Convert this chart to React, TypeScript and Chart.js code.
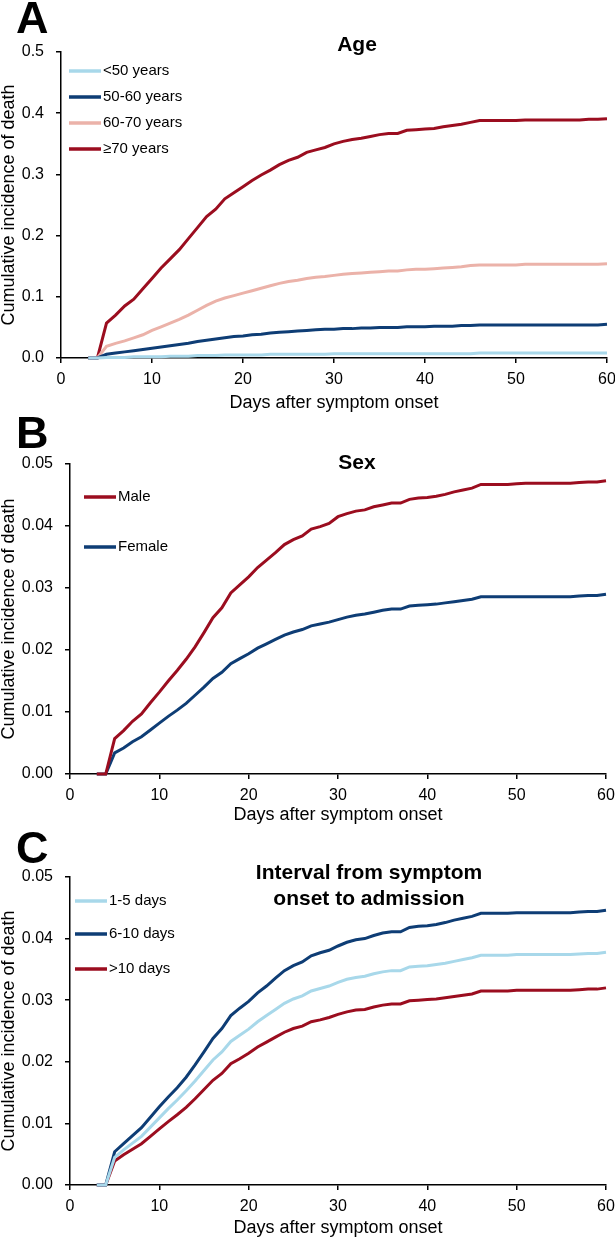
import React, { useEffect, useRef } from "react";
import { Chart, registerables } from "chart.js";

Chart.register(...registerables);

const FONT = '"Liberation Sans", Arial, Helvetica, sans-serif';

// ---------- data ----------
const DAYS = [3, 4, 5, 6, 7, 8, 9, 10,
  11, 12, 13, 14, 15, 16, 17, 18, 19, 20,
  21, 22, 23, 24, 25, 26, 27, 28, 29, 30,
  31, 32, 33, 34, 35, 36, 37, 38, 39, 40,
  41, 42, 43, 44, 45, 46, 47, 48, 49, 50,
  51, 52, 53, 54, 55, 56, 57, 58, 59, 60];

const X_TICKS = [0, 10, 20, 30, 40, 50, 60];

// Panel A: age
const AGE_LABELS = ["<50 years", "50-60 years", "60-70 years", "\u226570 years"];
const AGE_LT50 = [0, 0, 0.001, 0.001, 0.001, 0.002, 0.002, 0.002,
  0.002, 0.003, 0.003, 0.003, 0.004, 0.004, 0.004, 0.005, 0.005, 0.005,
  0.005, 0.005, 0.006, 0.006, 0.006, 0.006, 0.006, 0.006, 0.006, 0.007,
  0.007, 0.007, 0.007, 0.007, 0.007, 0.007, 0.007, 0.007, 0.007, 0.007,
  0.007, 0.007, 0.007, 0.007, 0.007, 0.008, 0.008, 0.008, 0.008, 0.008,
  0.008, 0.008, 0.008, 0.008, 0.008, 0.008, 0.008, 0.008, 0.008, 0.008];
const AGE_50_60 = [0, 0, 0.006, 0.008, 0.010, 0.012, 0.014, 0.016,
  0.018, 0.020, 0.022, 0.024, 0.027, 0.029, 0.031, 0.033, 0.035, 0.036,
  0.038, 0.039, 0.041, 0.042, 0.043, 0.044, 0.045, 0.046, 0.047, 0.047,
  0.048, 0.048, 0.049, 0.049, 0.050, 0.050, 0.050, 0.051, 0.051, 0.051,
  0.052, 0.052, 0.052, 0.053, 0.053, 0.054, 0.054, 0.054, 0.054, 0.054,
  0.054, 0.054, 0.054, 0.054, 0.054, 0.054, 0.054, 0.054, 0.054, 0.055];
const AGE_60_70 = [0, 0, 0.019, 0.024, 0.028, 0.033, 0.038, 0.045,
  0.051, 0.057, 0.063, 0.070, 0.078, 0.086, 0.093, 0.098, 0.102, 0.106,
  0.110, 0.114, 0.118, 0.122, 0.125, 0.127, 0.130, 0.132, 0.133, 0.135,
  0.137, 0.138, 0.139, 0.140, 0.141, 0.142, 0.142, 0.144, 0.145, 0.145,
  0.146, 0.147, 0.148, 0.149, 0.151, 0.152, 0.152, 0.152, 0.152, 0.152,
  0.153, 0.153, 0.153, 0.153, 0.153, 0.153, 0.153, 0.153, 0.153, 0.154];
const AGE_70 = [0, 0, 0.057, 0.070, 0.085, 0.096, 0.113, 0.130,
  0.147, 0.162, 0.177, 0.195, 0.213, 0.231, 0.243, 0.260, 0.270, 0.280,
  0.290, 0.299, 0.307, 0.316, 0.323, 0.328, 0.336, 0.340, 0.344, 0.350,
  0.354, 0.357, 0.359, 0.362, 0.365, 0.367, 0.367, 0.372, 0.373, 0.374,
  0.375, 0.378, 0.380, 0.382, 0.385, 0.388, 0.388, 0.388, 0.388, 0.388,
  0.389, 0.389, 0.389, 0.389, 0.389, 0.389, 0.389, 0.390, 0.390, 0.391];

// Panel B: sex
const SEX_LABELS = ["Male", "Female"];
const MALE = [0, 0, 0.0057, 0.0070, 0.0085, 0.0097, 0.0115, 0.0132,
  0.0150, 0.0167, 0.0185, 0.0205, 0.0228, 0.0252, 0.0268, 0.0292, 0.0305, 0.0318,
  0.0333, 0.0345, 0.0357, 0.0370, 0.0378, 0.0384, 0.0395, 0.0399, 0.0404, 0.0415,
  0.0420, 0.0424, 0.0426, 0.0431, 0.0434, 0.0437, 0.0437, 0.0443, 0.0445, 0.0446,
  0.0448, 0.0451, 0.0455, 0.0458, 0.0461, 0.0467, 0.0467, 0.0467, 0.0467, 0.0468,
  0.0469, 0.0469, 0.0469, 0.0469, 0.0469, 0.0469, 0.0470, 0.0471, 0.0471, 0.0473];
const FEMALE = [0, 0, 0.0034, 0.0042, 0.0052, 0.0060, 0.0071, 0.0082,
  0.0093, 0.0103, 0.0114, 0.0127, 0.0140, 0.0154, 0.0164, 0.0178, 0.0186, 0.0194,
  0.0203, 0.0210, 0.0217, 0.0224, 0.0229, 0.0233, 0.0239, 0.0242, 0.0245, 0.0249,
  0.0253, 0.0256, 0.0258, 0.0261, 0.0264, 0.0266, 0.0266, 0.0271, 0.0272, 0.0273,
  0.0274, 0.0276, 0.0278, 0.0280, 0.0282, 0.0286, 0.0286, 0.0286, 0.0286, 0.0286,
  0.0286, 0.0286, 0.0286, 0.0286, 0.0286, 0.0286, 0.0287, 0.0288, 0.0288, 0.0290];

// Panel C: interval from symptom onset to admission
const INT_LABELS = ["1-5 days", "6-10 days", ">10 days"];
const INT_1_5 = [0, 0, 0.0045, 0.0057, 0.0068, 0.0079, 0.0094, 0.0109,
  0.0124, 0.0138, 0.0153, 0.0169, 0.0186, 0.0203, 0.0216, 0.0233, 0.0243, 0.0253,
  0.0265, 0.0275, 0.0285, 0.0295, 0.0302, 0.0307, 0.0315, 0.0319, 0.0323, 0.0329,
  0.0334, 0.0337, 0.0339, 0.0343, 0.0346, 0.0348, 0.0348, 0.0354, 0.0355, 0.0356,
  0.0358, 0.0360, 0.0363, 0.0366, 0.0369, 0.0373, 0.0373, 0.0373, 0.0373, 0.0374,
  0.0374, 0.0374, 0.0374, 0.0374, 0.0374, 0.0374, 0.0375, 0.0376, 0.0376, 0.0378];
const INT_6_10 = [0, 0, 0.0054, 0.0067, 0.0080, 0.0093, 0.0110, 0.0127,
  0.0143, 0.0158, 0.0175, 0.0195, 0.0216, 0.0238, 0.0254, 0.0275, 0.0287, 0.0298,
  0.0312, 0.0323, 0.0336, 0.0348, 0.0356, 0.0362, 0.0372, 0.0377, 0.0381, 0.0388,
  0.0394, 0.0398, 0.0400, 0.0405, 0.0409, 0.0411, 0.0411, 0.0418, 0.0420, 0.0421,
  0.0423, 0.0426, 0.0430, 0.0433, 0.0436, 0.0441, 0.0441, 0.0441, 0.0441, 0.0442,
  0.0442, 0.0442, 0.0442, 0.0442, 0.0442, 0.0442, 0.0443, 0.0444, 0.0444, 0.0446];
const INT_GT10 = [0, 0, 0.0039, 0.0049, 0.0058, 0.0067, 0.0079, 0.0091,
  0.0103, 0.0114, 0.0126, 0.0140, 0.0155, 0.0170, 0.0181, 0.0197, 0.0205, 0.0214,
  0.0224, 0.0232, 0.0240, 0.0248, 0.0254, 0.0258, 0.0265, 0.0268, 0.0272, 0.0277,
  0.0281, 0.0284, 0.0285, 0.0289, 0.0292, 0.0294, 0.0294, 0.0299, 0.0300, 0.0301,
  0.0302, 0.0304, 0.0306, 0.0308, 0.0310, 0.0315, 0.0315, 0.0315, 0.0315, 0.0316,
  0.0316, 0.0316, 0.0316, 0.0316, 0.0316, 0.0316, 0.0317, 0.0318, 0.0318, 0.0320];

// ---------- styles ----------
const LIGHT_BLUE = "#A8D8EA";
const NAVY = "#0E3D75";
const SALMON = "#EBB2A9";
const DARK_RED = "#9B0D1F";

type Decor = {
  letter: string;
  title: string[];
  titleX: number;
  titleY: number;
  titleDy: number;
  legendX1: number;
  legendX2: number;
  legendTextX: number;
  legendY: number[];
};

function makeDecor(d: Decor) {
  return {
    id: "decor",
    afterDraw(chart: any) {
      const ctx = chart.ctx as CanvasRenderingContext2D;
      ctx.save();
      ctx.fillStyle = "#000";
      ctx.font = `bold 45px ${FONT}`;
      ctx.textAlign = "left";
      ctx.textBaseline = "alphabetic";
      ctx.fillText(d.letter, 16, 33);

      ctx.font = `bold 21px ${FONT}`;
      ctx.textAlign = "center";
      ctx.textBaseline = "middle";
      d.title.forEach((t, i) => ctx.fillText(t, d.titleX, d.titleY + i * d.titleDy));

      ctx.font = `15px ${FONT}`;
      ctx.textAlign = "left";
      chart.data.datasets.forEach((ds: any, i: number) => {
        const y = d.legendY[i];
        ctx.strokeStyle = ds.borderColor;
        ctx.lineWidth = 3.5;
        ctx.beginPath();
        ctx.moveTo(d.legendX1, y);
        ctx.lineTo(d.legendX2, y);
        ctx.stroke();
        ctx.fillStyle = "#000";
        ctx.fillText(ds.label, d.legendTextX, y);
      });
      ctx.restore();
    },
  };
}

type PanelCfg = {
  height: number;
  labels: string[];
  series: number[][];
  colors: string[];
  yMax: number;
  yStep: number;
  decimals: number;
  plotTop: number;
  plotBottom: number;
  plotLeft: number;
  plotRight: number;
  xTitlePad: number;
  decor: Decor;
};

function buildConfig(p: PanelCfg): any {
  const datasets = p.labels.map((label, i) => ({
    label,
    data: DAYS.map((d, j) => ({ x: d, y: p.series[i][j] })),
    borderColor: p.colors[i],
    backgroundColor: p.colors[i],
    borderWidth: 3,
    pointRadius: 0,
    tension: 0,
    fill: false,
    clip: false,
  }));
  return {
    type: "line",
    data: { datasets },
    plugins: [makeDecor(p.decor)],
    options: {
      responsive: false,
      animation: false,
      events: [],
      layout: {
        padding: { left: 0, top: p.plotTop, right: 615 - p.plotRight, bottom: 0 },
      },
      plugins: { legend: { display: false }, tooltip: { enabled: false }, title: { display: false } },
      scales: {
        x: {
          type: "linear",
          min: 0,
          max: 60,
          afterBuildTicks: (s: any) => {
            s.ticks = X_TICKS.map((v) => ({ value: v }));
          },
          ticks: {
            color: "#000",
            font: { family: FONT, size: 16 },
            padding: 7,
            maxRotation: 0,
          },
          grid: { drawOnChartArea: false, tickLength: 5, color: "#000", lineWidth: 1.5 },
          border: { color: "#000", width: 1.5 },
          title: {
            display: true,
            text: "Days after symptom onset",
            color: "#000",
            font: { family: FONT, size: 18, lineHeight: 1 },
            padding: { top: 0, bottom: p.xTitlePad },
          },
          afterFit: (s: any) => {
            s.height = p.height - p.plotBottom;
            s.paddingLeft = 0;
            s.paddingRight = 0;
          },
        },
        y: {
          type: "linear",
          min: 0,
          max: p.yMax,
          ticks: {
            stepSize: p.yStep,
            color: "#000",
            font: { family: FONT, size: 16 },
            padding: 12,
            callback: (v: any) => Number(v).toFixed(p.decimals),
          },
          grid: { drawOnChartArea: false, tickLength: 5, color: "#000", lineWidth: 1.5 },
          border: { color: "#000", width: 1.5 },
          title: {
            display: true,
            text: "Cumulative incidence of death",
            color: "#000",
            font: { family: FONT, size: 18, lineHeight: 1 },
            padding: { top: 0, bottom: 0 },
          },
          afterFit: (s: any) => {
            s.width = p.plotLeft;
            s.paddingTop = 0;
            s.paddingBottom = 0;
          },
        },
      },
    },
  };
}

const PANEL_A: PanelCfg = {
  height: 415,
  labels: AGE_LABELS,
  series: [AGE_LT50, AGE_50_60, AGE_60_70, AGE_70],
  colors: [LIGHT_BLUE, NAVY, SALMON, DARK_RED],
  yMax: 0.5,
  yStep: 0.1,
  decimals: 1,
  plotTop: 52,
  plotBottom: 358,
  plotLeft: 61,
  plotRight: 607,
  xTitlePad: 3,
  decor: {
    letter: "A",
    title: ["Age"],
    titleX: 357,
    titleY: 45,
    titleDy: 0,
    legendX1: 69,
    legendX2: 101,
    legendTextX: 103,
    legendY: [71, 97, 123, 149],
  },
};

const PANEL_B: PanelCfg = {
  height: 415,
  labels: SEX_LABELS,
  series: [MALE, FEMALE],
  colors: [DARK_RED, NAVY],
  yMax: 0.05,
  yStep: 0.01,
  decimals: 2,
  plotTop: 49,
  plotBottom: 359,
  plotLeft: 70,
  plotRight: 606,
  xTitlePad: 6,
  decor: {
    letter: "B",
    title: ["Sex"],
    titleX: 357,
    titleY: 48,
    titleDy: 0,
    legendX1: 84,
    legendX2: 116,
    legendTextX: 118,
    legendY: [82, 132],
  },
};

const PANEL_C: PanelCfg = {
  height: 409,
  labels: INT_LABELS,
  series: [INT_1_5, INT_6_10, INT_GT10],
  colors: [LIGHT_BLUE, NAVY, DARK_RED],
  yMax: 0.05,
  yStep: 0.01,
  decimals: 2,
  plotTop: 47,
  plotBottom: 355,
  plotLeft: 70,
  plotRight: 606,
  xTitlePad: 2,
  decor: {
    letter: "C",
    title: ["Interval from symptom", "onset to admission"],
    titleX: 369,
    titleY: 43,
    titleDy: 26,
    legendX1: 75,
    legendX2: 107,
    legendTextX: 109,
    legendY: [71, 104, 139],
  },
};

function Panel({ cfg, top }: { cfg: PanelCfg; top: number }) {
  const ref = useRef<HTMLCanvasElement | null>(null);
  useEffect(() => {
    if (!ref.current) return;
    const chart = new Chart(ref.current, buildConfig(cfg));
    return () => chart.destroy();
  }, [cfg]);
  return (
    <canvas
      ref={ref}
      width={615}
      height={cfg.height}
      style={{ position: "absolute", left: 0, top, width: 615, height: cfg.height, display: "block" }}
    />
  );
}

export default function App() {
  return (
    <div
      style={{
        position: "absolute",
        left: 0,
        top: 0,
        width: 615,
        height: 1239,
        overflow: "hidden",
        background: "#fff",
      }}
    >
      <Panel cfg={PANEL_A} top={0} />
      <Panel cfg={PANEL_B} top={415} />
      <Panel cfg={PANEL_C} top={830} />
    </div>
  );
}
